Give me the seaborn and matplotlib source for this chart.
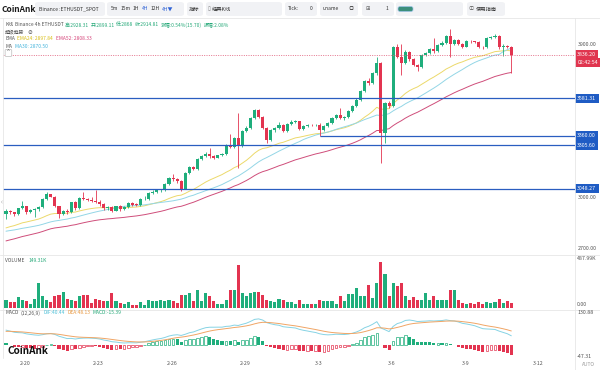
import numpy as np
import pandas as pd
import matplotlib
matplotlib.use("Agg")
import matplotlib.pyplot as plt
import matplotlib.transforms as mtrans
from matplotlib.patches import FancyBboxPatch
from matplotlib.lines import Line2D
import seaborn as sns

sns.set_theme(style="white")
plt.rcParams['font.family'] = ['Noto Sans CJK SC', 'DejaVu Sans']
plt.rcParams['axes.unicode_minus'] = False

# ---- data (ETHUSDT 4h) ----
first_open = 2899.11
closes = [2915, 2909, 2900, 2933, 2945, 2909, 2925, 2929, 2939, 2987,
          3015, 3003, 2945, 2900, 2919, 2909, 2968, 2933, 2993, 2987,
          2984, 2978, 2972, 2958, 2933, 2943, 2919, 2945, 2929, 2939,
          2964, 2956, 2955, 2987, 2991, 3023, 3030, 3040, 3042, 3075,
          3110, 3104, 3094, 3049, 3143, 3178, 3165, 3221, 3240, 3256,
          3240, 3232, 3245, 3252, 3303, 3296, 3348, 3300, 3387, 3407,
          3465, 3513, 3471, 3406, 3338, 3393, 3406, 3426, 3387, 3430,
          3440, 3445, 3400, 3416, 3426, 3422, 3426, 3396, 3416, 3435,
          3465, 3484, 3465, 3470, 3504, 3537, 3572, 3621, 3685, 3670,
          3728, 3786, 3377, 3552, 3533, 3880, 3826, 3786, 3855, 3810,
          3778, 3767, 3835, 3845, 3868, 3858, 3894, 3908, 3946, 3900,
          3923, 3903, 3884, 3919, 3915, 3913, 3884, 3880, 3933, 3943,
          3946, 3884, 3890, 3884, 3836.2]
highs = [2928, 2925, 2912, 2938, 2975, 2950, 2930, 2935, 2945, 2992,
         3030, 3020, 3008, 2950, 2925, 2930, 2972, 2975, 2998, 3030,
         2995, 3000, 3040, 2980, 2962, 2948, 2948, 2950, 2952, 2945,
         2968, 2968, 2962, 2992, 3005, 3028, 3040, 3045, 3050, 3080,
         3115, 3135, 3110, 3100, 3148, 3185, 3185, 3230, 3250, 3265,
         3290, 3248, 3250, 3258, 3310, 3370, 3355, 3494, 3395, 3415,
         3472, 3520, 3518, 3478, 3412, 3400, 3412, 3440, 3432, 3436,
         3455, 3452, 3450, 3422, 3432, 3430, 3432, 3436, 3422, 3440,
         3470, 3490, 3523, 3478, 3510, 3542, 3580, 3628, 3690, 3700,
         3735, 3822, 3795, 3560, 3565, 3890, 3900, 3900, 3862, 3860,
         3815, 3785, 3842, 3852, 3875, 3933, 3900, 3915, 3952, 3991,
         3930, 3928, 3908, 3925, 3925, 3920, 3918, 3890, 3940, 3950,
         3960, 3952, 3898, 3895, 3888]
lows = [2868, 2900, 2890, 2895, 2928, 2900, 2905, 2885, 2920, 2935,
        2982, 2998, 2940, 2875, 2895, 2900, 2905, 2925, 2928, 2980,
        2975, 2970, 2965, 2950, 2925, 2925, 2912, 2915, 2920, 2922,
        2935, 2950, 2948, 2950, 2980, 2985, 3018, 3022, 3030, 3035,
        3070, 3095, 3080, 3036, 3045, 3138, 3158, 3160, 3215, 3235,
        3232, 3225, 3228, 3240, 3248, 3288, 3290, 3172, 3295, 3380,
        3400, 3460, 3462, 3398, 3320, 3332, 3385, 3400, 3380, 3382,
        3425, 3435, 3392, 3395, 3410, 3415, 3418, 3360, 3390, 3410,
        3430, 3460, 3458, 3455, 3465, 3498, 3530, 3565, 3615, 3660,
        3662, 3720, 3201, 3318, 3525, 3528, 3815, 3718, 3780, 3800,
        3770, 3740, 3760, 3828, 3840, 3850, 3852, 3888, 3902, 3825,
        3895, 3895, 3875, 3880, 3908, 3905, 3878, 3870, 3875, 3928,
        3938, 3872, 3830, 3876, 3728]
volumes_k = [80, 57, 57, 102, 80, 70, 41, 86, 239, 112,
             80, 57, 112, 121, 153, 89, 80, 70, 112, 128,
             128, 48, 86, 73, 64, 64, 144, 64, 48, 38,
             57, 26, 26, 57, 32, 73, 64, 64, 80, 64,
             80, 70, 48, 121, 121, 144, 64, 175, 64, 144,
             112, 64, 41, 38, 80, 175, 175, 415, 144, 112,
             144, 150, 150, 121, 73, 64, 57, 89, 73, 57,
             57, 41, 73, 38, 38, 38, 38, 80, 64, 64,
             70, 41, 112, 64, 137, 137, 191, 112, 112, 223,
             96, 239, 440, 329, 118, 239, 207, 239, 112, 73,
             102, 73, 80, 144, 80, 118, 80, 73, 80, 175,
             175, 73, 48, 41, 48, 41, 57, 41, 54, 48,
             57, 86, 48, 70, 48]

# indicator starting levels read at the left edge of the picture
ema24_start, ema52_start, ma30_start = 2810, 2735, 2795
ema12_start, ema26_start, dea_start = 2902, 2838, 54

support_levels = [3581.31, 3360.00, 3305.60, 3048.27]
level_from = [None, 77, None, None]
last_price = 3836.20
price_ticks = [2700, 3000, 3900]
date_labels = ['2-20', '2-23', '2-26', '2-29', '3-3', '3-6', '3-9', '3-12']

# ---- derived series ----
n = len(closes)
idx = np.arange(n)
c = np.array(closes, dtype=float)
o = np.array([first_open] + closes[:-1], dtype=float)
up = c >= o
GREEN, RED = '#1fae7c', '#e33450'
cols = np.where(up, GREEN, RED)

ema24 = pd.Series([ema24_start] + closes).ewm(span=24, adjust=False).mean().values[1:]
ema52 = pd.Series([ema52_start] + closes).ewm(span=52, adjust=False).mean().values[1:]
ma30 = pd.Series([ma30_start] * 29 + closes).rolling(30).mean().values[29:]
ema12 = pd.Series([ema12_start] + closes).ewm(span=12, adjust=False).mean().values[1:]
ema26 = pd.Series([ema26_start] + closes).ewm(span=26, adjust=False).mean().values[1:]
dif = ema12 - ema26
dea = pd.Series([dea_start] + list(dif)).ewm(span=9, adjust=False).mean().values[1:]
hist = 2 * (dif - dea)
prev_hist = np.concatenate([[2 * (ema12_start - ema26_start - dea_start)], hist[:-1]])

# ---- layout (pixel based) ----
W, H = 600, 370
fig = plt.figure(figsize=(6, 3.7), dpi=100)
fig.patch.set_facecolor('white')
renderer = fig.canvas.get_renderer()


def fx(x):
    return x / W


def fy(y):
    return 1 - y / H


def add_ax(top, bottom):
    return fig.add_axes([fx(3), fy(bottom), (575 - 3) / W, (bottom - top) / H])


ax = add_ax(18, 255)
axv = add_ax(255, 310)
axm = add_ax(310, 358)

step = 4.075
xl = (-3 / step, (575 - 6) / step)
for a in (ax, axv, axm):
    a.set_xlim(*xl)
    for s in a.spines.values():
        s.set_visible(False)
    a.set_facecolor('white')
    a.set_xticks([])

TXT = '#555555'
FS = 3.8

# main candles
ax.set_ylim(2659, 4053)
ax.vlines(idx, lows, highs, color=cols, lw=0.6, zorder=3)
body_lo = np.minimum(o, c)
body_h = np.maximum(np.abs(c - o), 2.0)
ax.bar(idx, body_h, bottom=body_lo, width=0.76, color=cols, lw=0, zorder=4)

sns.lineplot(x=idx, y=ema24, ax=ax, color='#ecd96a', lw=0.7, zorder=2)
sns.lineplot(x=idx, y=ma30, ax=ax, color='#93d6e6', lw=0.7, zorder=2)
sns.lineplot(x=idx, y=ema52, ax=ax, color='#cf4d7a', lw=0.7, zorder=2)

blend = mtrans.blended_transform_factory(ax.transAxes, ax.transData)
for lvl, start in zip(support_levels, level_from):
    if start is None:
        ax.axhline(lvl, color='#2a5dc0', lw=0.9, zorder=5)
    else:
        ax.hlines(lvl, start, xl[1], color='#2a5dc0', lw=0.9, zorder=5)

ax.axhline(last_price, color='#e0607d', lw=0.6, ls=(0, (1.2, 1.6)), zorder=5)

ax.yaxis.tick_right()
ax.set_yticks(price_ticks)
ax.set_yticklabels([f'{t:.2f}' for t in price_ticks])
ax.tick_params(axis='y', length=0, pad=2, labelsize=FS, labelcolor=TXT)
ax.set_ylabel('')

box_kw = dict(fontsize=FS, color='white', va='center', ha='left', zorder=10, clip_on=False)
for lvl in support_levels:
    ax.text(1.004, lvl, f'{lvl:.2f}', transform=blend,
            bbox=dict(boxstyle='square,pad=0.4', fc='#1f5cc4', ec='none'), **box_kw)
ax.text(1.004, last_price, f'{last_price:.2f}', transform=blend,
        bbox=dict(boxstyle='square,pad=0.4', fc='#e0354f', ec='none'), **box_kw)
ax.annotate('02:42:54', xy=(1.004, last_price), xycoords=blend, xytext=(0, -8),
            textcoords='offset pixels', annotation_clip=False,
            bbox=dict(boxstyle='square,pad=0.4', fc='#e0354f', ec='none'), **box_kw)

# volume
axv.set_ylim(-19, 507)
axv.bar(idx, volumes_k, width=0.76, color=cols, lw=0)
axv.set_yticks([])

# MACD
axm.set_ylim(-52.6, 141.8)
for i in idx:
    colr = GREEN if hist[i] >= 0 else RED
    if hist[i] >= prev_hist[i]:
        axm.bar(i, hist[i], width=0.64, fill=False, edgecolor=colr, lw=0.5)
    else:
        axm.bar(i, hist[i], width=0.76, color=colr, lw=0)
sns.lineplot(x=idx, y=dif, ax=axm, color='#86d3e4', lw=0.7)
sns.lineplot(x=idx, y=dea, ax=axm, color='#f0a565', lw=0.7)
axm.set_yticks([])
axm.set_ylabel('')
ax.set_xticks([])
axm.set_xticks([4.7 + 18 * k for k in range(len(date_labels))])
axm.set_xticklabels(date_labels)
axm.tick_params(axis='x', length=0, pad=2, labelsize=FS, labelcolor=TXT)

# separators
for y in (18, 255, 310):
    fig.add_artist(Line2D([0, 1], [fy(y), fy(y)], color='#e6e6e6', lw=0.6))
fig.add_artist(Line2D([fx(575), fx(575)], [fy(18), fy(370)], color='#e6e6e6', lw=0.6))
fig.add_artist(Line2D([fx(3), fx(3)], [fy(18), fy(358)], color='#e6e6e6', lw=0.6))


def chain(x, y, parts, size=FS, gap=2.0, **kw):
    # place text pieces one after another, measuring each
    for s, col in parts:
        t = fig.text(fx(x), fy(y), s, fontsize=size, color=col, va='center', ha='left', **kw)
        x += t.get_window_extent(renderer).width + gap
    return x


# right column labels for sub panels
for yy, s in [(258, '487.99K'), (304, '0.00'), (313, '130.88'), (356, '-47.31')]:
    chain(577, yy, [(s, TXT)])
chain(582, 364, [('AUTO', '#999999')], size=3.5)
chain(0.5, 202, [('‹', '#999999')], size=4.5)

LG = '#23a877'
chain(5, 25, [('K线', TXT), ('Binance 4h ETHUSDT', TXT), ('高:2928.31', LG),
              ('开:2899.11', LG), ('低:2868', LG), ('收:2914.81', LG),
              ('涨幅:0.54%(15.70)', LG), ('振幅:2.08%', LG)], size=3.5, gap=1.6)
chain(5, 32, [('超级趋势', TXT), ('⊘', TXT)], size=3.5, gap=3)
chain(5, 39, [('EMA', TXT), ('EMA24: 2897.84', '#d9be16'), ('EMA52: 2808.33', '#d6457a')],
      size=3.5, gap=2.5)
chain(5, 46, [('MA', TXT), ('MA30: 2870.50', '#45b4dc')], size=3.5, gap=3)
chain(6, 53, [('⌃', TXT)], size=4.2,
      bbox=dict(boxstyle='round,pad=0.15', fc='white', ec='#bbbbbb', lw=0.5))

chain(5, 260, [('VOLUME', TXT), ('149.31K', LG)], size=3.5, gap=4)
chain(5, 313, [('MACD', TXT), ('(12,26,9)', TXT), ('DIF:40.44', '#4cc0d8'),
               ('DEA:48.13', '#e8963c'), ('MACD:-15.39', LG)], size=3.5, gap=2.5)

chain(7, 351, [('CoinAnk', '#111111')], size=7.2, fontweight='bold')


# toolbar
def tbox(x0, x1, y0=2, y1=16):
    fig.add_artist(FancyBboxPatch((fx(x0), fy(y1)), (x1 - x0) / W, (y1 - y0) / H,
                                  boxstyle='round,pad=0,rounding_size=0.006',
                                  transform=fig.transFigure, fc='#f1f2f5', ec='none'))


DK = '#333333'
BL = '#2f63d6'
chain(2, 9, [('CoinAnk', '#1a1a1a')], size=6.0, fontweight='bold')
tbox(35, 105)
chain(39, 9, [('Binance :ETHUSDT_SPOT', DK)], size=3.6)
tbox(107, 184)
chain(111, 9, [('5m', DK), ('15m', DK), ('1H', DK), ('4H', BL), ('12H', DK), ('4H▼', BL)],
      size=3.6, gap=2.2)
tbox(187, 203)
chain(189, 9, [('指标', DK)], size=3.8)
tbox(206, 282)
chain(208, 9, [('▯', '#777777'), ('经典K线', DK)], size=3.8, gap=1)
tbox(285, 317)
chain(288, 9, [('Tick:', DK)], size=3.6)
chain(310, 9, [('0', DK)], size=3.6)
tbox(320, 358)
chain(323, 9, [('uname', DK)], size=3.6)
chain(349, 9, [('◎', '#555555')], size=3.8)
tbox(362, 394)
chain(366, 9, [('⊞', '#555555')], size=3.8)
chain(386, 9, [('1', DK)], size=3.6)
tbox(396, 463)
fig.add_artist(FancyBboxPatch((fx(398), fy(11.5)), 15 / W, 5 / H,
                              boxstyle='round,pad=0,rounding_size=0.004',
                              transform=fig.transFigure, fc='#3c8f7c', ec='#9fc4e8', lw=0.5))
tbox(467, 505)
chain(469, 9, [('ⓘ', '#555555'), ('使用指南', DK)], size=3.8, gap=1.5)

fig.savefig('out.png', dpi=100, facecolor='white')
